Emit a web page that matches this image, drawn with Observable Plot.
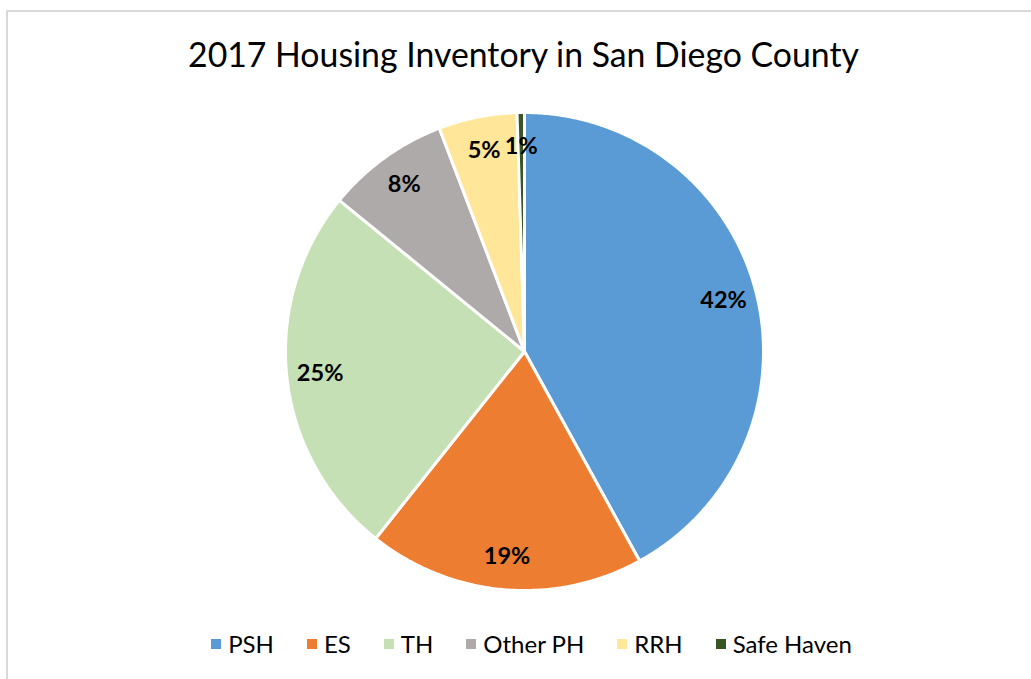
<!DOCTYPE html>
<html>
<head>
<meta charset="utf-8">
<script src="https://cdn.jsdelivr.net/npm/d3@7"></script>
<script src="https://cdn.jsdelivr.net/npm/@observablehq/plot@0.6"></script>
<style>
  html, body { margin: 0; padding: 0; background: #fff; overflow: hidden; }
  body { width: 1031px; height: 679px; position: relative; font-family: Lato, "Open Sans", sans-serif; }
  #frame { position: absolute; left: 6px; top: 10px; width: 2000px; height: 2000px; border: 2px solid #d9d9d9; box-sizing: border-box; }
  #title { position: relative; height: 90px; text-align: center; font-size: 33.8px; line-height: 32px; padding-top: 38px; box-sizing: border-box; color: #000; padding-left: 16px; white-space: nowrap; }
  #chart { position: relative; height: 520px; }
  #legend { position: relative; height: 69px; display: flex; justify-content: center; align-items: flex-start; padding-top: 20px; box-sizing: border-box; font-size: 24px; line-height: 28px; color: #000; padding-left: 32px; white-space: nowrap; }
  .item { display: flex; align-items: center; margin-right: 33px; }
  .item:last-child { margin-right: 0; }
  .sw { width: 10px; height: 10px; margin-right: 7px; }
</style>
</head>
<body>
<div id="frame"></div>
<div id="title">2017 Housing Inventory in San Diego County</div>
<div id="chart"></div>
<div id="legend"></div>
<script>
const categories = ["PSH", "ES", "TH", "Other PH", "RRH", "Safe Haven"];
const values = [42.0, 18.7, 25.2, 8.3, 5.3, 0.5];
const labels = ["42%", "19%", "25%", "8%", "5%", "1%"];
const colors = ["#5b9bd5", "#ed7d31", "#c5e0b4", "#aeaaaa", "#ffe699", "#375623"];

const W = 1031, H = 520, R = 239, cx = 524, cy = 261;

const pie = d3.pie().sort(null).value(d => d.value)(
  categories.map((c, i) => ({category: c, value: values[i], label: labels[i]}))
);

// polygon vertices for each slice, derived from pie angles
const slicePts = [];
pie.forEach(p => {
  const c = p.data.category;
  slicePts.push({category: c, x: 0, y: 0});
  const n = Math.max(2, Math.ceil((p.endAngle - p.startAngle) / (Math.PI / 360)));
  for (let k = 0; k <= n; k++) {
    const a = p.startAngle + (p.endAngle - p.startAngle) * k / n;
    slicePts.push({category: c, x: Math.sin(a), y: Math.cos(a)});
  }
  slicePts.push({category: c, x: 0, y: 0});
});

const labelPts = pie.map(p => {
  const a = (p.startAngle + p.endAngle) / 2;
  const r = 0.86;
  return {label: p.data.label, x: r * Math.sin(a), y: r * Math.cos(a)};
});

const chart = Plot.plot({
  width: W,
  height: H,
  margin: 0,
  x: {domain: [-cx / R, (W - cx) / R], axis: null},
  y: {domain: [-(H - cy) / R, cy / R], axis: null},
  color: {domain: categories, range: colors},
  marks: [
    Plot.line(slicePts, {x: "x", y: "y", z: "category", fill: "category", stroke: "white", strokeWidth: 3, strokeLinejoin: "miter", curve: "linear"}),
    Plot.text(labelPts, {x: "x", y: "y", text: "label", fontSize: 23.5, fontWeight: "bold", fill: "black", fontFamily: "Lato"})
  ],
  style: {background: "transparent", overflow: "visible"}
});
document.getElementById("chart").appendChild(chart);

const legend = document.getElementById("legend");
categories.forEach((c, i) => {
  const it = document.createElement("div");
  it.className = "item";
  const sw = document.createElement("div");
  sw.className = "sw";
  sw.style.background = colors[i];
  const t = document.createElement("span");
  t.textContent = c;
  it.appendChild(sw); it.appendChild(t);
  legend.appendChild(it);
});
</script>
</body>
</html>
